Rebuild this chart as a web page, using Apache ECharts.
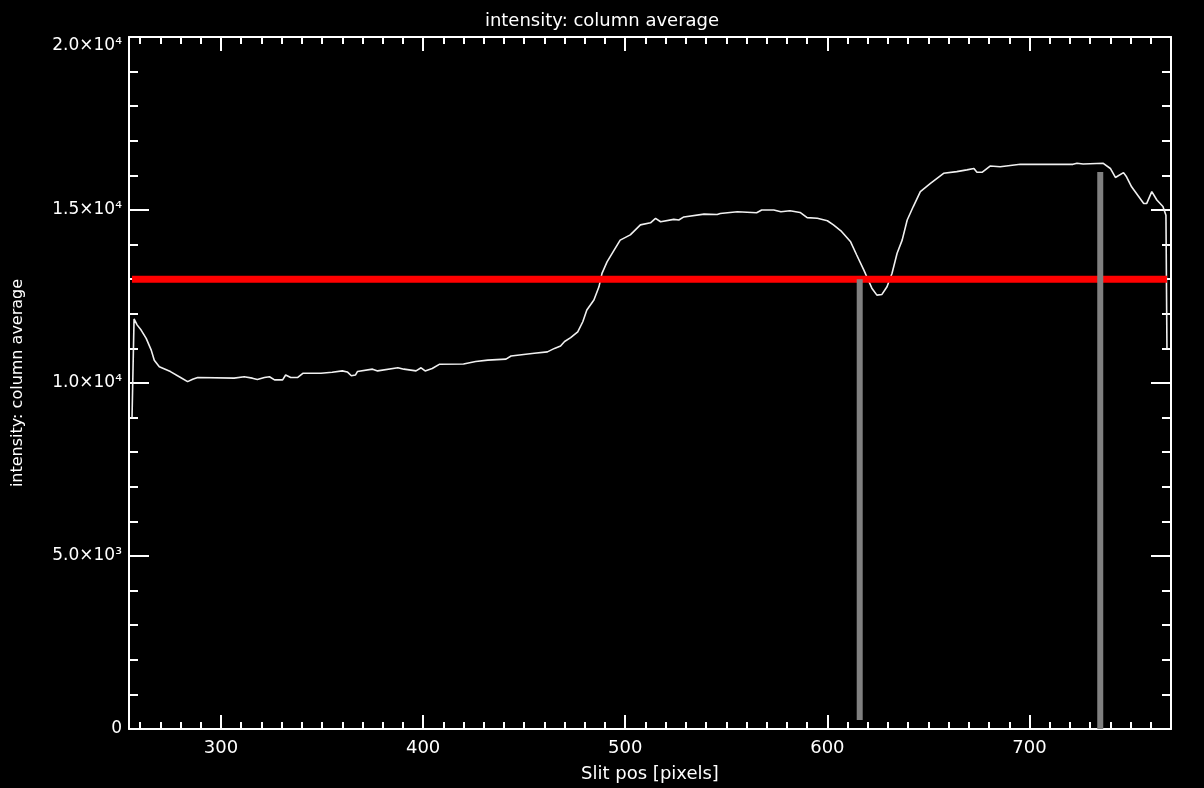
<!DOCTYPE html>
<html>
<head>
<meta charset="utf-8">
<script src="https://cdn.jsdelivr.net/npm/echarts@6/dist/echarts.min.js"></script>
<style>html,body{margin:0;padding:0;background:#000;}#c{width:1204px;height:788px;}</style>
</head>
<body>
<div id="c"></div>
<script>
// ---- data ----
const slitPos = [256,257,258.5,260.5,263,265.5,267,269.5,275,280,283.5,286,288.5,306.5,311.5,315.5,318,321.5,324,326.5,330.5,332,334.5,338,340.5,349.5,355,360,362.5,364.5,366.5,367.5,375,377.5,387.5,390.5,396.5,399,401,404.5,408,420,426,432,441,443.5,455,461.5,465,468,470,473,476.5,479,481,484.5,487,488.5,491,494.5,497.5,502.5,507.5,512.5,515,517.5,524,526.5,529,539,545.5,547,555.5,565,567.5,573.5,577,581.5,586.5,590,595,600,603,607,611.5,614.5,618,619.5,622,624.5,627,629.5,632,634.5,637,639.5,642.5,646,651,657.5,664,669,672.5,674,676.5,680.5,685.5,695.5,721.5,723.5,726.5,736.5,740,742.5,746.5,748,750.5,756.5,758,760.5,763,766,767.5,768];
const intensity = [9000,11850,11680,11530,11290,10950,10660,10470,10330,10160,10040,10110,10160,10140,10180,10140,10100,10160,10180,10090,10090,10230,10160,10160,10280,10280,10310,10350,10320,10210,10230,10330,10400,10350,10440,10400,10350,10440,10350,10420,10540,10550,10620,10660,10690,10780,10860,10900,11000,11070,11200,11310,11480,11770,12110,12400,12780,13170,13500,13840,14130,14280,14570,14630,14760,14660,14730,14710,14800,14880,14870,14900,14950,14920,15000,15000,14950,14980,14930,14780,14760,14690,14570,14380,14080,13700,13270,13070,12740,12540,12560,12780,13170,13750,14130,14710,15100,15530,15770,16060,16110,16160,16200,16090,16090,16270,16250,16320,16320,16350,16330,16350,16200,15940,16080,15960,15670,15190,15190,15530,15290,15100,14850,11000];
const thresholdX = [256, 768];
const thresholdY = [13000, 13000];
const marker1X = [616, 616];
const marker1Y = [260, 13000];
const marker2X = [735, 735];
const marker2Y = [0, 16100];
const xMajorTicks = [300, 400, 500, 600, 700];
const xMinorTicks = [260,270,280,290,310,320,330,340,350,360,370,380,390,410,420,430,440,450,460,470,480,490,510,520,530,540,550,560,570,580,590,610,620,630,640,650,660,670,680,690,710,720,730,740,750,760];
const yTickValues = [0, 5000, 10000, 15000, 20000];
const yTickLabels = ['0', '5.0×10³', '1.0×10⁴', '1.5×10⁴', '2.0×10⁴'];
const titleText = 'intensity: column average';
const xName = 'Slit pos [pixels]';
const yName = 'intensity: column average';

// ---- chart ----
const FONT = 'DejaVu Sans';
const X_MIN = 254.5, X_MAX = 770;
const white = '#ffffff';
function pairs(xs, ys) { return xs.map((x, i) => [x, ys[i]]); }

function xAx(pos, major, labels) {
  return {
    type: 'value', position: pos, min: X_MIN, max: X_MAX, offset: 0,
    axisLine: { show: major, onZero: false, lineStyle: { color: white, width: 2 } },
    axisTick: { show: true, inside: true, length: major ? 14 : 7, customValues: major ? xMajorTicks : xMinorTicks, lineStyle: { color: white, width: 2 } },
    axisLabel: labels ? { show: true, customValues: xMajorTicks, color: white, fontFamily: FONT, fontSize: 18, margin: 10 } : { show: false },
    splitLine: { show: false },
    name: labels ? xName : '', nameLocation: 'middle', nameGap: 36,
    nameTextStyle: { color: white, fontFamily: FONT, fontSize: 18 }
  };
}
function yAx(pos, labels) {
  return {
    type: 'value', position: pos, min: 0, max: 20000, interval: 5000,
    axisLine: { show: true, onZero: false, lineStyle: { color: white, width: 2 } },
    axisTick: { show: true, inside: true, length: 20, lineStyle: { color: white, width: 2 } },
    minorTick: { show: true, splitNumber: 5, length: 9, lineStyle: { color: white, width: 2 } },
    axisLabel: labels ? {
      show: true, color: white, fontFamily: FONT, fontSize: 17, margin: 7,
      verticalAlignMaxLabel: 'top',
      formatter: v => { const i = yTickValues.indexOf(v); return i >= 0 ? yTickLabels[i] : ''; }
    } : { show: false },
    splitLine: { show: false },
    name: labels ? yName : '', nameLocation: 'middle', nameGap: 103, nameRotate: 90,
    nameTextStyle: { color: white, fontFamily: FONT, fontSize: 16 }
  };
}

const chart = echarts.init(document.getElementById('c'), null, { renderer: 'canvas' });
chart.setOption({
  backgroundColor: '#000000',
  animation: false,
  title: { text: titleText, left: 'center', top: 7, textStyle: { color: white, fontFamily: FONT, fontSize: 18, fontWeight: 'normal' } },
  grid: { left: 129, right: 33, top: 37, bottom: 59, containLabel: false, outerBoundsMode: 'none' },
  xAxis: [xAx('bottom', true, true), xAx('bottom', false, false), xAx('top', true, false), xAx('top', false, false)],
  yAxis: [yAx('left', true), yAx('right', false)],
  series: [
    { type: 'line', data: pairs(slitPos, intensity), showSymbol: false, symbol: 'none', lineStyle: { color: '#f0f0f0', width: 1.6 }, z: 2 },
    { type: 'line', data: pairs(thresholdX, thresholdY), showSymbol: false, symbol: 'none', lineStyle: { color: '#ff0000', width: 7 }, z: 3 },
    { type: 'line', data: pairs(marker1X, marker1Y), showSymbol: false, symbol: 'none', lineStyle: { color: '#808080', width: 6 }, z: 4 },
    { type: 'line', data: pairs(marker2X, marker2Y), showSymbol: false, symbol: 'none', lineStyle: { color: '#808080', width: 6 }, z: 4 }
  ]
});
</script>
</body>
</html>
